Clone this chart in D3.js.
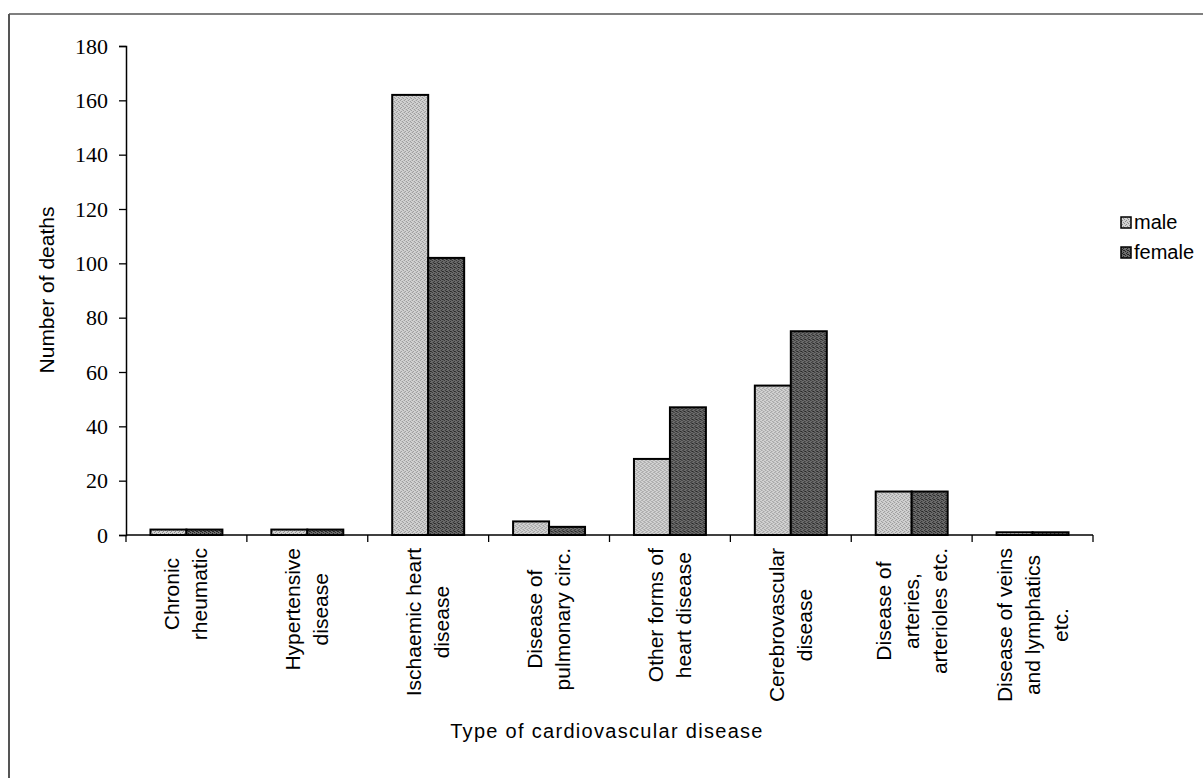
<!DOCTYPE html>
<html>
<head>
<meta charset="utf-8">
<script src="https://cdn.jsdelivr.net/npm/d3@7"></script>
<style>
  html, body { margin: 0; padding: 0; background: #fff; }
  svg { display: block; }
</style>
</head>
<body>
<svg id="chart" width="1203" height="778"></svg>
<script>
// Deaths from cardiovascular disease, by type and sex
const categories = [
  ["Chronic", "rheumatic"],
  ["Hypertensive", "disease"],
  ["Ischaemic heart", "disease"],
  ["Disease of", "pulmonary circ."],
  ["Other forms of", "heart disease"],
  ["Cerebrovascular", "disease"],
  ["Disease of", "arteries,", "arterioles etc."],
  ["Disease of veins", "and lymphatics", "etc."]
];
const seriesNames = ["male", "female"];
const maleDeaths   = [2, 2, 162, 5, 28, 55, 16, 1];
const femaleDeaths = [2, 2, 102, 3, 47, 75, 16, 1];
const yTicks = [0, 20, 40, 60, 80, 100, 120, 140, 160, 180];

const seriesValues = [maleDeaths, femaleDeaths];

const svg = d3.select("#chart");
const W = 1203, H = 778;
const plot = { left: 126, right: 1093, top: 46, bottom: 535 };

// stippled fills for the two series
const defs = svg.append("defs");
function stipple(id, base, dot, cells) {
  const p = defs.append("pattern").attr("id", id)
    .attr("patternUnits", "userSpaceOnUse").attr("width", 4).attr("height", 4);
  p.append("rect").attr("width", 4).attr("height", 4).attr("fill", base);
  cells.forEach(([cx, cy]) => p.append("rect").attr("x", cx).attr("y", cy)
    .attr("width", 1).attr("height", 1).attr("fill", dot));
}
stipple("fill-male", "#d2d2d2", "#8e8e8e", [[0, 0], [2, 1], [1, 3], [3, 2]]);
stipple("fill-female", "#6c6c6c", "#262626", [[0, 0], [2, 1], [1, 2], [3, 3], [2, 3]]);
const fills = { male: "url(#fill-male)", female: "url(#fill-female)" };

// outer frame (left and top edges visible)
svg.append("line").attr("x1", 9).attr("x2", 9).attr("y1", 14).attr("y2", H)
  .attr("stroke", "#555").attr("stroke-width", 2);
svg.append("line").attr("x1", 9).attr("x2", W).attr("y1", 14).attr("y2", 14)
  .attr("stroke", "#555").attr("stroke-width", 1.5);

const keys = categories.map(c => c.join(" "));
const x0 = d3.scaleBand().domain(keys).range([plot.left, plot.right]).paddingInner(0).paddingOuter(0);
const x1 = d3.scaleBand().domain(seriesNames).range([0, x0.bandwidth()]).paddingInner(0).paddingOuter(0.68);
const y = d3.scaleLinear().domain([0, 180]).range([plot.bottom, plot.top]);

// bars
const groups = svg.append("g").selectAll("g")
  .data(keys)
  .join("g")
  .attr("transform", d => `translate(${x0(d)},0)`);

groups.selectAll("rect")
  .data((d, i) => seriesNames.map((s, j) => ({ s, v: seriesValues[j][i] })))
  .join("rect")
  .attr("x", d => x1(d.s))
  .attr("y", d => y(d.v))
  .attr("width", x1.bandwidth())
  .attr("height", d => y(0) - y(d.v))
  .attr("fill", d => fills[d.s])
  .attr("stroke", "#000")
  .attr("stroke-width", 2);

// y axis
const yAxis = svg.append("g")
  .attr("transform", `translate(${plot.left},0)`)
  .call(d3.axisLeft(y).tickValues(yTicks).tickSize(7).tickPadding(11).tickFormat(d3.format("d")));
yAxis.select(".domain").attr("stroke", "#000").attr("stroke-width", 1.5);
yAxis.selectAll(".tick line").attr("stroke", "#000").attr("stroke-width", 1.3);
yAxis.selectAll(".tick text")
  .attr("font-family", "'Liberation Serif', 'Times New Roman', serif")
  .attr("font-size", 22).attr("fill", "#000");

// x axis: baseline with ticks on category boundaries
const xAxis = svg.append("g").attr("transform", `translate(0,${plot.bottom})`);
xAxis.append("line").attr("x1", plot.left).attr("x2", plot.right)
  .attr("stroke", "#000").attr("stroke-width", 1.5);
const boundaries = keys.map(k => x0(k)).concat([x0(keys[keys.length - 1]) + x0.bandwidth()]);
xAxis.selectAll("line.tick").data(boundaries).join("line")
  .attr("class", "tick")
  .attr("x1", d => d).attr("x2", d => d).attr("y1", 0).attr("y2", 7)
  .attr("stroke", "#000").attr("stroke-width", 1.3);

// category labels, rotated, lines centred on each other, top aligned under the axis
const labelFont = "'Liberation Sans', Arial, sans-serif";
const lineGap = 28;
const labelTop = 548;
categories.forEach((lines, i) => {
  const cx = x0(keys[i]) + x0.bandwidth() / 2;
  const g = svg.append("g");
  const texts = lines.map(t => g.append("text")
    .attr("font-family", labelFont).attr("font-size", 21).attr("fill", "#000")
    .attr("text-anchor", "middle").text(t));
  const maxLen = d3.max(texts, t => t.node().getComputedTextLength());
  const cy = labelTop + maxLen / 2;
  const n = lines.length;
  texts.forEach((t, j) => {
    const bx = cx + (j - (n - 1) / 2) * lineGap + 7;
    t.attr("transform", `translate(${bx},${cy}) rotate(-90)`);
  });
});

// axis titles
svg.append("text")
  .attr("transform", "translate(54,290) rotate(-90)")
  .attr("text-anchor", "middle")
  .attr("font-family", labelFont).attr("font-size", 21).attr("fill", "#000")
  .text("Number of deaths");

svg.append("text")
  .attr("x", 607).attr("y", 738)
  .attr("text-anchor", "middle")
  .attr("font-family", labelFont).attr("font-size", 20).attr("letter-spacing", 1.3).attr("fill", "#000")
  .text("Type of cardiovascular disease");

// legend
const legend = svg.append("g").attr("transform", "translate(1121,217)");
seriesNames.forEach((s, i) => {
  const row = legend.append("g").attr("transform", `translate(0,${i * 30})`);
  row.append("rect").attr("x", 0).attr("y", 0).attr("width", 10).attr("height", 11)
    .attr("fill", fills[s]).attr("stroke", "#000").attr("stroke-width", 1.5);
  row.append("text").attr("x", 13).attr("y", 12)
    .attr("font-family", labelFont).attr("font-size", 20).attr("fill", "#000")
    .text(s);
});
</script>
</body>
</html>
